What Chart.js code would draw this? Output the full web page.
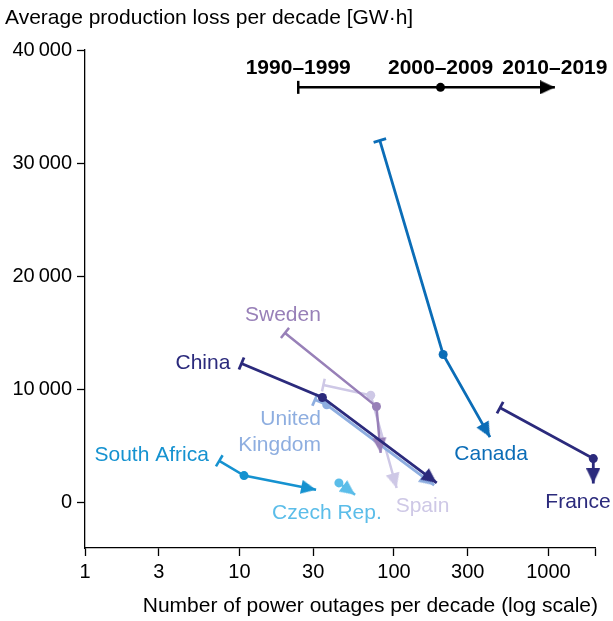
<!DOCTYPE html>
<html>
<head>
<meta charset="utf-8">
<script src="https://cdn.jsdelivr.net/npm/chart.js@4"></script>
<style>
  html, body { margin: 0; padding: 0; background: #fff; }
  #chart { display: block; }
</style>
</head>
<body>
<canvas id="chart" width="613" height="621"></canvas>
<script>
// one value per decade: 1990–1999, 2000–2009, 2010–2019 (null = no data)
const chinaX = [10.3, 34.4, 189];
const chinaY = [12300, 9300, 1750];
const swedenX = [19.7, 77, 82];
const swedenY = [15000, 8500, 4400];
const ukX = [30.8, 36.7, 182];
const ukY = [9100, 8650, 1550];
const spainX = [34.9, 70.7, 104];
const spainY = [10400, 9500, 1300];
const canadaX = [81, 208, 418];
const canadaY = [32000, 13100, 5800];
const franceX = [486, 1950, 1950];
const franceY = [8400, 3900, 1700];
const southAfricaX = [7.4, 10.7, 31.3];
const southAfricaY = [3700, 2400, 1150];
const czechX = [null, 44, 56];
const czechY = [null, 1750, 700];

// key at the top of the plot
const keyLabels = ['1990–1999', '2000–2009', '2010–2019'];
const keyX = [24, 200, 1100];
const keyY = [36700, 36700, 36700];

const xTicks = [1, 3, 10, 30, 100, 300, 1000, 2000];
const xTickLabels = ['1', '3', '10', '30', '100', '300', '1000', ''];
const yTicks = [0, 10000, 20000, 30000, 40000];

const FONT = "'Liberation Sans', Arial, Helvetica, sans-serif";

// arrow head with its tip at the image centre, pointing up
function makeArrow(color) {
  const c = document.createElement('canvas');
  c.width = 14; c.height = 30;
  const g = c.getContext('2d');
  g.fillStyle = color;
  g.beginPath();
  g.moveTo(7, 15);
  g.lineTo(14, 30);
  g.lineTo(0, 30);
  g.closePath();
  g.fill();
  return c;
}

function angleAt(ctx) {
  if (ctx.dataIndex === undefined) return 0;
  const pts = ctx.dataset.data;
  const i = ctx.dataIndex;
  const a = i === 0 ? pts[0] : pts[i - 1];
  const b = i === 0 ? pts[1] : pts[i];
  const sx = ctx.chart.scales.x, sy = ctx.chart.scales.y;
  const dx = sx.getPixelForValue(b.x) - sx.getPixelForValue(a.x);
  const dy = sy.getPixelForValue(b.y) - sy.getPixelForValue(a.y);
  return Math.atan2(dy, dx) * 180 / Math.PI + 90;
}

function series(label, xs, ys, color, width) {
  const data = [];
  xs.forEach((v, i) => { if (v !== null) data.push({ x: v, y: ys[i], d: i }); });
  const arrow = makeArrow(color);
  return {
    label,
    data,
    borderColor: color,
    backgroundColor: color,
    borderWidth: width,
    borderCapStyle: 'butt',
    tension: 0,
    clip: false,
    pointBackgroundColor: color,
    pointBorderColor: color,
    pointBorderWidth: ctx => (ctx.raw && ctx.raw.d === 1 ? 0 : width),
    pointStyle: ctx => {
      if (!ctx.raw) return 'circle';
      if (ctx.raw.d === 0) return 'line';
      if (ctx.raw.d === 2) return arrow;
      return 'circle';
    },
    pointRadius: ctx => (ctx.raw && ctx.raw.d === 1 ? 4.5 : 6.5),
    pointRotation: angleAt
  };
}

// drawn top first
const datasets = [
  series('Key', keyX, keyY, '#000000', 2.5),
  series('China', chinaX, chinaY, '#2b2a7c', 2.8),
  series('Sweden', swedenX, swedenY, '#9880b8', 2.5),
  series('United Kingdom', ukX, ukY, '#8eaee0', 2.8),
  series('Spain', spainX, spainY, '#cec8e6', 2.5),
  series('Canada', canadaX, canadaY, '#0b6db7', 2.8),
  series('France', franceX, franceY, '#2b2a7c', 2.8),
  series('South Africa', southAfricaX, southAfricaY, '#1592d0', 2.5),
  series('Czech Rep.', czechX, czechY, '#5bbde9', 2.5)
];

// text placed in data coordinates
const textLabels = [
  { text: 'Sweden', x: 19.1, y: 16600, color: '#9880b8', align: 'center' },
  { text: 'China', x: 5.8, y: 12350, color: '#2b2a7c', align: 'center' },
  { text: 'United', x: 33.7, y: 7350, color: '#8eaee0', align: 'right' },
  { text: 'Kingdom', x: 33.7, y: 5050, color: '#8eaee0', align: 'right' },
  { text: 'South Africa', x: 2.7, y: 4200, color: '#1592d0', align: 'center' },
  { text: 'Czech Rep.', x: 36.8, y: -950, color: '#5bbde9', align: 'center' },
  { text: 'Spain', x: 153, y: -300, color: '#cec8e6', align: 'center' },
  { text: 'Canada', x: 425, y: 4330, color: '#0b6db7', align: 'center' },
  { text: 'France', x: 1552, y: 50, color: '#2b2a7c', align: 'center' }
];

const textPlugin = {
  id: 'texts',
  afterDatasetsDraw(chart) {
    const { ctx, scales: { x, y } } = chart;
    ctx.save();
    ctx.textBaseline = 'middle';
    ctx.font = '21px ' + FONT;
    textLabels.forEach(t => {
      ctx.fillStyle = t.color;
      ctx.textAlign = t.align;
      ctx.fillText(t.text, x.getPixelForValue(t.x), y.getPixelForValue(t.y));
    });
    ctx.font = 'bold 21px ' + FONT;
    ctx.fillStyle = '#000';
    ctx.textAlign = 'center';
    keyLabels.forEach((s, i) => {
      ctx.fillText(s, x.getPixelForValue(keyX[i]), y.getPixelForValue(keyY[i]) - 19);
    });
    // axis titles
    ctx.font = '21px ' + FONT;
    ctx.fillStyle = '#000';
    ctx.textAlign = 'left';
    ctx.fillText('Average production loss per decade [GW·h]', 5, 18);
    ctx.textAlign = 'right';
    ctx.fillText('Number of power outages per decade (log scale)', chart.chartArea.right + 3, 606);
    ctx.restore();
  }
};

new Chart(document.getElementById('chart'), {
  type: 'line',
  data: { datasets },
  plugins: [textPlugin],
  options: {
    responsive: false,
    animation: false,
    devicePixelRatio: 1,
    events: [],
    layout: { padding: { top: 50, right: 18, left: 0, bottom: 0 } },
    plugins: {
      legend: { display: false },
      tooltip: { enabled: false }
    },
    scales: {
      x: {
        type: 'logarithmic',
        min: 1,
        max: 2000,
        afterBuildTicks: s => { s.ticks = xTicks.map(v => ({ value: v })); },
        afterFit: s => { s.height = 73; },
        border: { color: '#000', width: 1.3 },
        grid: { drawOnChartArea: false, tickLength: 8, tickColor: '#000', tickWidth: 1.3 },
        ticks: {
          autoSkip: false,
          maxRotation: 0,
          padding: 4,
          color: '#000',
          font: { family: FONT, size: 20 },
          callback: (v, i) => xTickLabels[i]
        }
      },
      y: {
        type: 'linear',
        min: -4000,
        max: 40000,
        afterBuildTicks: s => { s.ticks = yTicks.map(v => ({ value: v })); },
        afterFit: s => { s.width = 85; },
        border: { color: '#000', width: 1.3 },
        grid: { drawOnChartArea: false, tickLength: 8, tickColor: '#000', tickWidth: 1.3 },
        ticks: {
          padding: 5,
          color: '#000',
          font: { family: FONT, size: 20 },
          callback: v => String(v).replace(/\B(?=(\d{3})+(?!\d))/g, '\u2009')
        }
      }
    }
  }
});
</script>
</body>
</html>
